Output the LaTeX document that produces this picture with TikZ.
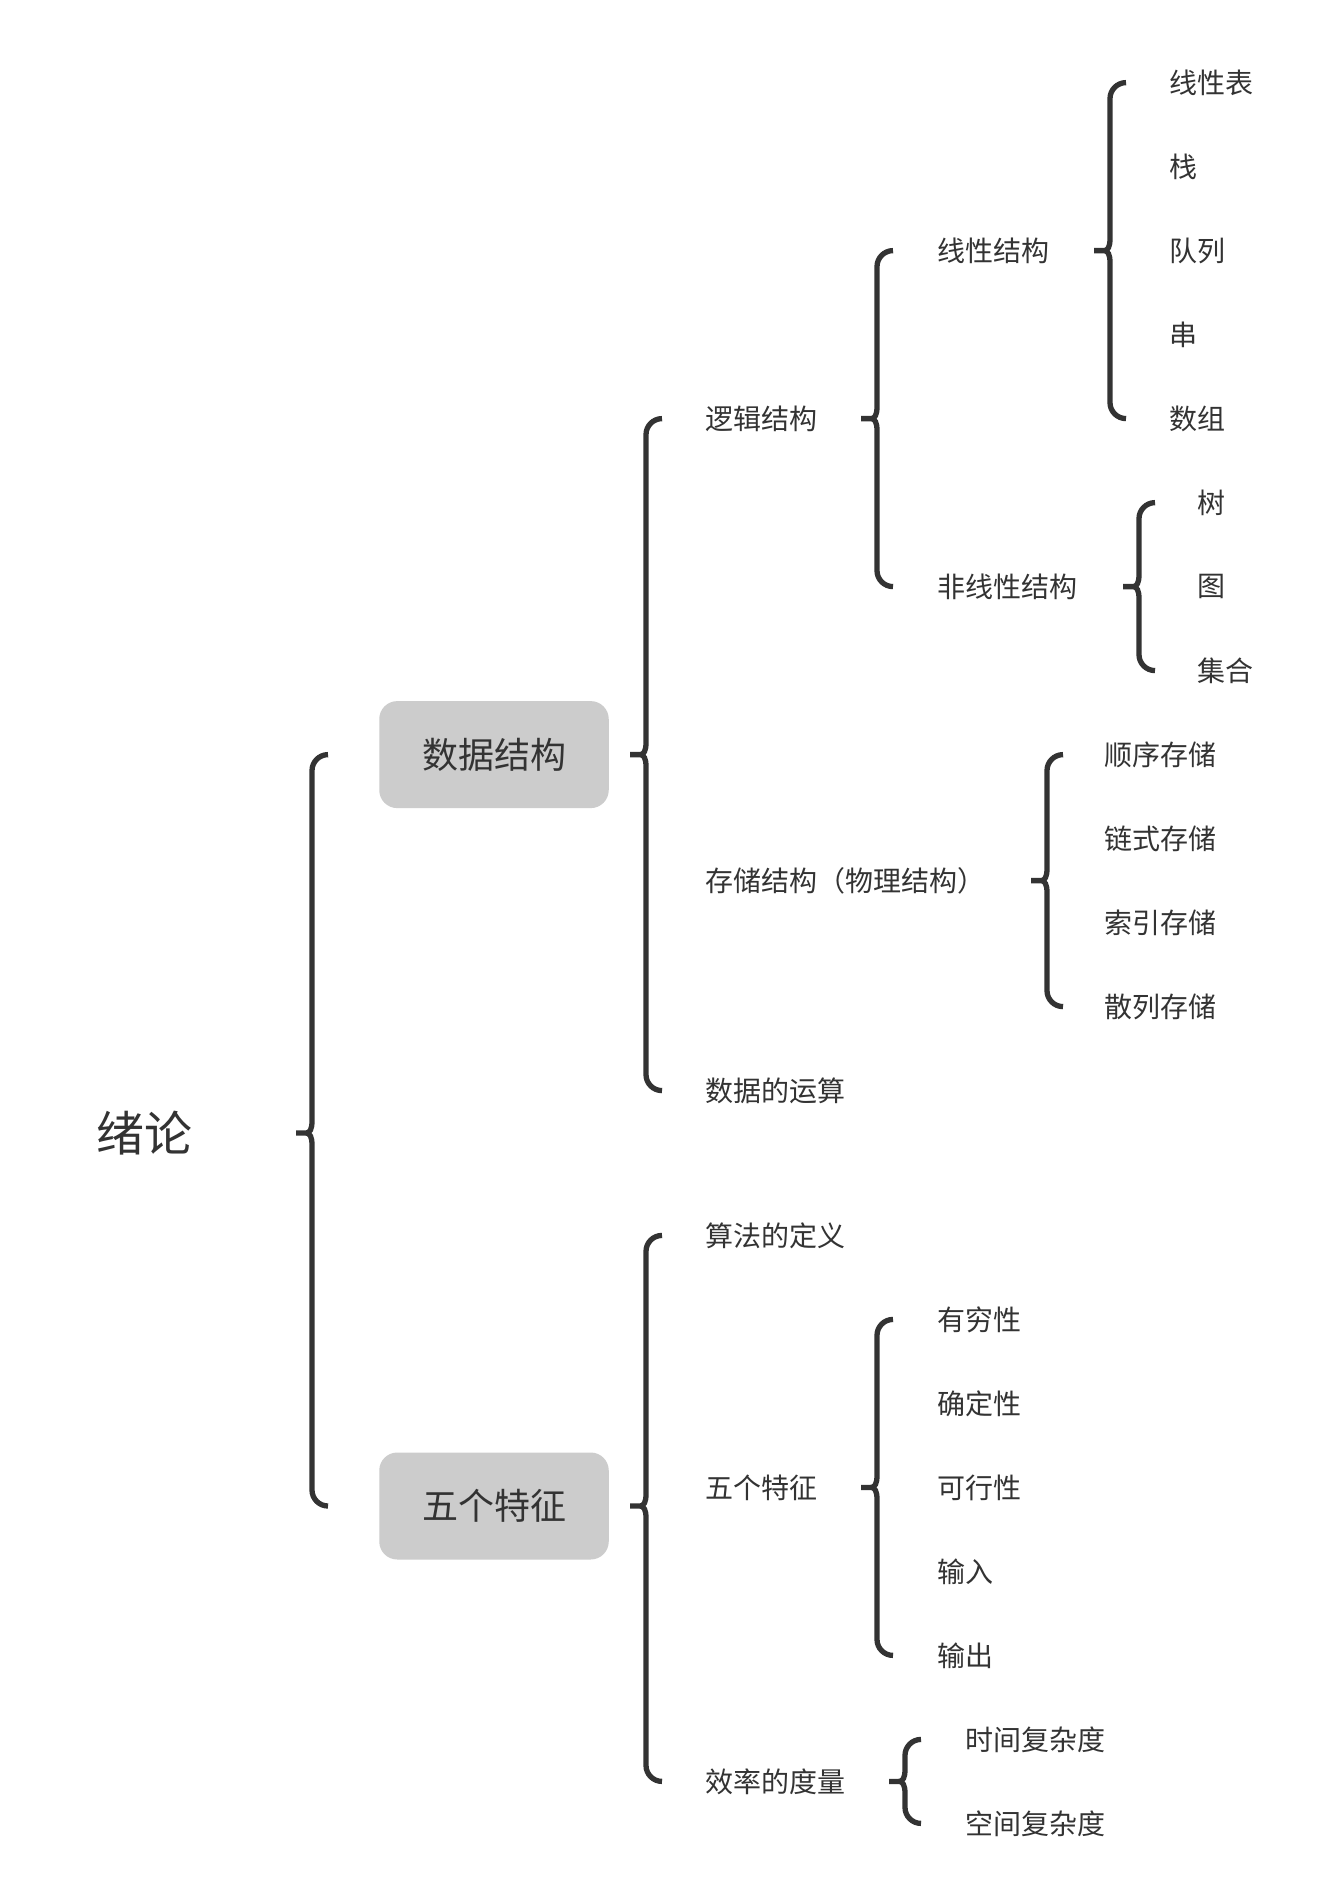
\documentclass[tikz,border=0pt]{standalone}
\usepackage{fontspec}
\setmainfont{Noto Sans CJK SC}
\usetikzlibrary{calc}
\definecolor{fg}{HTML}{333333}
\definecolor{boxfill}{HTML}{CCCCCC}
\tikzset{
  lbl/.style={anchor=west, inner sep=0pt, text=fg, font=\fontsize{28}{34}\selectfont},
  rootlbl/.style={anchor=west, inner sep=0pt, text=fg, font=\fontsize{48}{56}\selectfont},
  topicbox/.style={rectangle, rounded corners=18pt, fill=boxfill, text=fg, minimum width=229.5pt, minimum height=107pt, inner sep=0pt, font=\fontsize{36}{44}\selectfont},
  bracestyle/.style={draw=fg, line width=5.3pt}
}
\newcommand\mybrace[4]{%
  \coordinate (T) at (#1 |- #3);
  \coordinate (M) at (#1 |- #2);
  \coordinate (B) at (#1 |- #4);
  \draw[bracestyle] ($(T)+(16,0)$) .. controls ($(T)+(7.2,0)$) and ($(T)+(0,7.2)$) .. ($(T)+(0,16)$)
    -- ($(M)+(0,-12)$) .. controls ($(M)+(0,-4)$) and ($(M)+(-2,0)$) .. ($(M)+(-6,0)$) -- ($(M)+(-16,0)$)
    ($(M)+(-6,0)$) .. controls ($(M)+(-2,0)$) and ($(M)+(0,4)$) .. ($(M)+(0,12)$)
    -- ($(B)+(0,-16)$) .. controls ($(B)+(0,-7.2)$) and ($(B)+(7.2,0)$) .. ($(B)+(16,0)$);
}
\begin{document}
\begin{tikzpicture}[x=1pt,y=-1pt]
\fill[white] (0,0) rectangle (1324,1904);
\useasboundingbox (0,0) rectangle (1324,1904);

% root
\node[rootlbl] (root) at (96,1133) {绪论};
% level 1 boxes
\node[topicbox] (ds) at (494,754.6) {数据结构};
\node[topicbox] (wz) at (494,1506) {五个特征};

% level 2
\node[lbl] (luoji) at (705,418.6) {逻辑结构};
\node[lbl] (cunchu) at (705,880.6) {存储结构（物理结构）};
\node[lbl] (yunsuan) at (705,1090.6) {数据的运算};
\node[lbl] (suanfa) at (705,1235.4) {算法的定义};
\node[lbl] (wuge) at (705,1487.4) {五个特征};
\node[lbl] (xiaolv) at (705,1781.4) {效率的度量};

% level 3
\node[lbl] (xianxing) at (937,250.6) {线性结构};
\node[lbl] (feixian) at (937,586.6) {非线性结构};
\node[lbl] (youqiong) at (937,1319.4) {有穷性};
\node[lbl] (queding) at (937,1403.4) {确定性};
\node[lbl] (kexing) at (937,1487.4) {可行性};
\node[lbl] (shuru) at (937,1571.4) {输入};
\node[lbl] (shuchu) at (937,1655.4) {输出};

% level 4
\node[lbl] (xxb) at (1169,82.6) {线性表};
\node[lbl] (zhan) at (1169,166.6) {栈};
\node[lbl] (dl) at (1169,250.6) {队列};
\node[lbl] (chuan) at (1169,334.6) {串};
\node[lbl] (sz) at (1169,418.6) {数组};
\node[lbl] (shu) at (1197,502.6) {树};
\node[lbl] (tu) at (1197,586.6) {图};
\node[lbl] (jh) at (1197,670.6) {集合};
\node[lbl] (sx) at (1104,754.6) {顺序存储};
\node[lbl] (ls) at (1104,838.6) {链式存储};
\node[lbl] (sy) at (1104,922.6) {索引存储};
\node[lbl] (sl) at (1104,1006.6) {散列存储};
\node[lbl] (sj) at (965,1739.4) {时间复杂度};
\node[lbl] (kj) at (965,1823.4) {空间复杂度};

% brace x positions
\coordinate (bRoot) at (312,0);
\coordinate (bDs) at (646,0);
\coordinate (bWz) at (646,0);
\coordinate (bLuoji) at (877,0);
\coordinate (bXian) at (1110,0);
\coordinate (bFei) at (1139,0);
\coordinate (bCun) at (1047,0);
\coordinate (bWuge) at (877,0);
\coordinate (bXiao) at (905,0);

\mybrace{bRoot}{root}{ds}{wz}
\mybrace{bDs}{ds}{luoji}{yunsuan}
\mybrace{bWz}{wz}{suanfa}{xiaolv}
\mybrace{bLuoji}{luoji}{xianxing}{feixian}
\mybrace{bXian}{xianxing}{xxb}{sz}
\mybrace{bFei}{feixian}{shu}{jh}
\mybrace{bCun}{cunchu}{sx}{sl}
\mybrace{bWuge}{wuge}{youqiong}{shuchu}
\mybrace{bXiao}{xiaolv}{sj}{kj}
\end{tikzpicture}
\end{document}
